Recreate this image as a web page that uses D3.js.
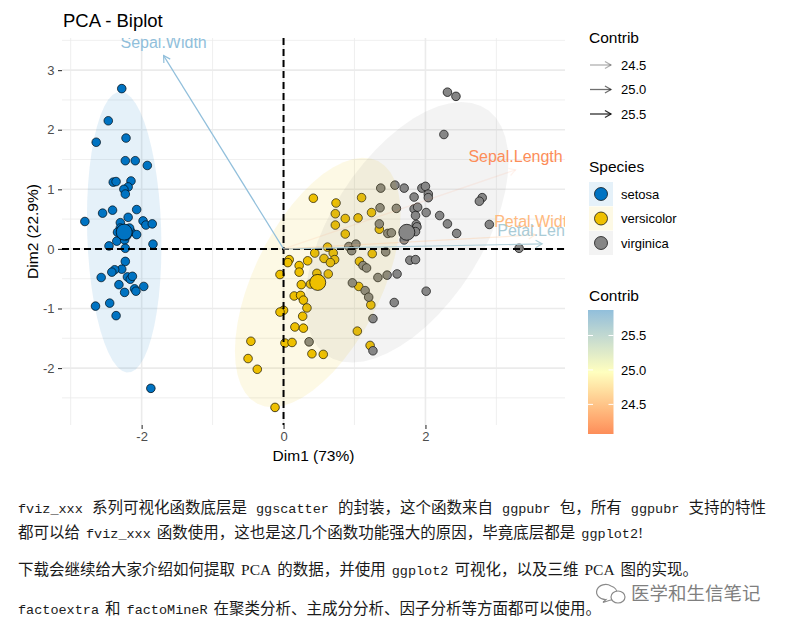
<!DOCTYPE html>
<html><head><meta charset="utf-8">
<script src="https://cdn.jsdelivr.net/npm/d3@7"></script>
<style>body{margin:0;background:#fff}svg{display:block}</style>
</head><body>
<svg id="c" width="789" height="627"></svg>
<script>
// ---------------- data ----------------
const species = ["setosa", "versicolor", "virginica"];
const speciesColors = ["#0073C2", "#EFC000", "#868686"];

const setosaDim1 = [-2.28,-2.47,-2.64,-2.22,-2.23,-2.09,-1.92,-2.40,-2.36,-2.15,-2.19,-2.25,-2.23,-2.07,-2.55,-2.41,-2.80,-2.30,-2.19,-1.98,-1.94,-1.85,-2.15,-2.07,-2.35,-2.24,-2.46,-1.84,-2.23,-2.23,-2.28,-2.38,-2.42,-2.57,-2.20,-2.16,-2.13,-2.32,-2.24,-2.10,-2.08,-1.97,-2.65,-2.45,-2.36,-1.87,-2.30,-2.17,-2.34,-2.21];
const setosaDim2 = [2.69,2.15,1.79,1.86,1.48,1.48,1.40,1.12,1.13,1.14,1.04,1.00,0.92,0.66,0.60,0.65,0.46,0.44,0.53,0.47,0.40,0.42,0.29,0.24,0.13,0.15,0.05,0.08,0.01,-0.21,-0.34,-0.35,-0.39,-0.48,-0.47,-0.51,-0.46,-0.60,-0.73,-0.67,-0.71,-0.63,-0.96,-0.91,-1.12,-2.34,0.35,0.35,0.28,0.22];

const versicolorDim1 = [0.42,0.74,1.10,0.73,0.87,1.05,1.24,0.73,0.87,1.35,0.62,0.44,0.70,0.57,0.72,0.66,0.08,0.06,0.34,0.22,0.22,-0.05,0.47,0.63,0.38,0.25,1.07,1.25,1.06,0.15,0.24,0.28,0.33,0.00,-0.05,0.27,0.16,0.28,-0.46,0.02,0.12,-0.50,-0.37,0.40,0.56,1.04,1.23,1.22,-0.12,0.51];
const versicolorDim2 = [0.85,0.77,0.86,0.59,0.51,0.52,0.61,0.40,0.25,0.33,0.03,-0.07,-0.07,-0.16,-0.18,-0.23,-0.18,-0.23,-0.20,-0.28,-0.39,-0.43,-0.41,-0.42,-0.59,-0.60,-0.21,-0.08,-0.63,-0.79,-0.78,-0.86,-0.99,-1.03,-1.06,-1.13,-1.31,-1.33,-1.55,-1.58,-1.57,-1.84,-2.02,-1.76,-1.77,-1.38,-0.94,-1.62,-2.66,-0.52];

const virginicaDim1 = [2.31,2.43,2.26,1.37,1.57,1.70,1.84,1.95,2.00,2.04,2.04,2.80,2.76,1.36,1.59,1.84,1.89,1.86,2.01,2.20,1.35,1.87,1.88,2.31,2.90,1.47,1.52,1.86,2.44,3.32,0.92,1.02,0.96,1.44,1.78,1.86,1.12,1.17,1.33,1.46,1.60,0.97,1.15,1.20,2.01,1.56,1.26,0.36,1.26,1.70];
const virginicaDim2 = [2.63,2.56,1.92,1.02,1.07,1.02,0.87,1.02,1.05,0.92,0.86,0.86,0.80,0.69,0.68,0.67,0.70,0.56,0.61,0.56,0.42,0.41,0.37,0.42,0.41,0.26,0.27,0.29,0.26,0.01,0.04,0.08,-0.03,-0.05,-0.19,-0.18,-0.28,-0.32,-0.48,-0.44,-0.42,-0.57,-0.70,-0.81,-0.71,-0.90,-1.17,-1.56,-1.71,0.15];

const varNames = ["Sepal.Length", "Sepal.Width", "Petal.Length", "Petal.Width"];
const varDim1 = [0.890, -0.460, 0.992, 0.965];
const varDim2 = [0.361, 0.883, 0.023, 0.064];
const varContrib = [24.07, 25.87, 25.69, 24.41];

const xTicks = [-2, 0, 2];
const yTicks = [-2, -1, 0, 1, 2, 3];
const contribBreaks = [24.5, 25.0, 25.5];
const gradientColors = ["#FC8D59", "#FFFFBF", "#91BFDB"];

const chartTitle = "PCA - Biplot";
const xTitle = "Dim1 (73%)";
const yTitle = "Dim2 (22.9%)";

const textLines = [
  [["fviz_xxx","m"],[" 系列可视化函数底层是 ","c"],["ggscatter","m"],[" 的封装，这个函数来自 ","c"],["ggpubr","m"],[" 包，所有 ","c"],["ggpubr","m"],[" 支持的特性","c"]],
  [["都可以给 ","c"],["fviz_xxx","m"],[" 函数使用，这也是这几个函数功能强大的原因，毕竟底层都是 ","c"],["ggplot2","m"],["!","s"]],
  [["下载会继续给大家介绍如何提取 ","c"],["PCA","s"],[" 的数据，并使用 ","c"],["ggplot2","m"],[" 可视化，以及三维 ","c"],["PCA","s"],[" 图的实现。","c"]],
  [["factoextra","m"],[" 和 ","c"],["factoMineR","m"],[" 在聚类分析、主成分分析、因子分析等方面都可以使用。","c"]]
];
const watermark = "医学和生信笔记";

// ---------------- build ----------------
const groups = [
  {name: species[0], color: speciesColors[0], x: setosaDim1, y: setosaDim2},
  {name: species[1], color: speciesColors[1], x: versicolorDim1, y: versicolorDim2},
  {name: species[2], color: speciesColors[2], x: virginicaDim1, y: virginicaDim2}
];
const allX = groups.flatMap(g => g.x), allY = groups.flatMap(g => g.y);

// factoextra biplot scaling of variable arrows
const rr = Math.min(
  d3.max(allX) - d3.min(allX) / (d3.max(varDim1) - d3.min(varDim1)),
  d3.max(allY) - d3.min(allY) / (d3.max(varDim2) - d3.min(varDim2))
) * 0.7;
const vars = varNames.map((n, i) => ({name: n, x: varDim1[i] * rr, y: varDim2[i] * rr, contrib: varContrib[i]}));

function expand(ext) { const r = ext[1] - ext[0]; return [ext[0] - 0.05 * r, ext[1] + 0.05 * r]; }
const xDom = expand(d3.extent(allX.concat(vars.map(v => v.x), [0])));
const yDom = expand(d3.extent(allY.concat(vars.map(v => v.y), [0])));

const PL = 62, PR = 565, PT = 38, PB = 425;
const xs = d3.scaleLinear().domain(xDom).range([PL, PR]);
const ys = d3.scaleLinear().domain(yDom).range([PB, PT]);

const cExt = d3.extent(varContrib);
const colorScale = d3.scaleLinear().domain([cExt[0], (cExt[0] + cExt[1]) / 2, cExt[1]]).range(gradientColors).interpolate(d3.interpolateLab);
const alphaScale = d3.scaleLinear().domain(cExt).range([0.1, 1]);

const svg = d3.select("#c");
svg.append("rect").attr("width", 789).attr("height", 627).attr("fill", "#fff");
svg.append("defs").append("clipPath").attr("id", "pc")
  .append("rect").attr("x", PL).attr("y", PT).attr("width", PR - PL).attr("height", PB - PT);

const font = "'Liberation Sans', Arial, sans-serif";

// grid
const gGrid = svg.append("g");
function minors(maj, dom) {
  const st = maj[1] - maj[0]; const out = [];
  for (let v = maj[0] - st / 2; v <= dom[1]; v += st) if (v >= dom[0]) out.push(v);
  return out;
}
minors(xTicks, xDom).forEach(v => gGrid.append("line").attr("x1", xs(v)).attr("x2", xs(v)).attr("y1", PT).attr("y2", PB).attr("stroke", "#EBEBEB").attr("stroke-width", 0.8));
minors(yTicks, yDom).forEach(v => gGrid.append("line").attr("y1", ys(v)).attr("y2", ys(v)).attr("x1", PL).attr("x2", PR).attr("stroke", "#EBEBEB").attr("stroke-width", 0.8));
xTicks.forEach(v => gGrid.append("line").attr("x1", xs(v)).attr("x2", xs(v)).attr("y1", PT).attr("y2", PB).attr("stroke", "#EBEBEB").attr("stroke-width", 1.6));
yTicks.forEach(v => gGrid.append("line").attr("y1", ys(v)).attr("y2", ys(v)).attr("x1", PL).attr("x2", PR).attr("stroke", "#EBEBEB").attr("stroke-width", 1.6));

// axes
const ax = svg.append("g").attr("transform", `translate(0,${PB})`)
  .call(d3.axisBottom(xs).tickValues(xTicks).tickSize(4).tickPadding(3).tickFormat(d => String(d)));
const ay = svg.append("g").attr("transform", `translate(${PL},0)`)
  .call(d3.axisLeft(ys).tickValues(yTicks).tickSize(4).tickPadding(3.5).tickFormat(d => String(d)));
[ax, ay].forEach(a => {
  a.select(".domain").remove();
  a.selectAll(".tick line").attr("stroke", "#333").attr("stroke-width", 1.1);
  a.selectAll(".tick text").attr("fill", "#4D4D4D").style("font-family", font).style("font-size", "13px");
});

const plot = svg.append("g").attr("clip-path", "url(#pc)");

// points
groups.forEach(g => {
  plot.append("g").selectAll("circle").data(g.x.map((x, i) => [x, g.y[i]])).join("circle")
    .attr("cx", d => xs(d[0])).attr("cy", d => ys(d[1])).attr("r", 4.3)
    .attr("fill", g.color).attr("stroke", "#000").attr("stroke-width", 0.7);
});

// concentration ellipses (type = "norm", level 0.95)
function ellipsePath(g) {
  const n = g.x.length;
  const mx = d3.mean(g.x), my = d3.mean(g.y);
  let sxx = 0, syy = 0, sxy = 0;
  for (let i = 0; i < n; i++) { const dx = g.x[i] - mx, dy = g.y[i] - my; sxx += dx * dx; syy += dy * dy; sxy += dx * dy; }
  sxx /= n - 1; syy /= n - 1; sxy /= n - 1;
  const a = Math.sqrt(sxx), b = sxy / a, c = Math.sqrt(syy - b * b);
  const d2 = n - 1;
  const fq = (d2 / 2) * (Math.pow(0.05, -2 / d2) - 1);
  const rad = Math.sqrt(2 * fq);
  const pts = d3.range(0, 51).map(k => {
    const t = k / 50 * 2 * Math.PI;
    const ux = Math.cos(t), uy = Math.sin(t);
    return [xs(mx + rad * ux * a), ys(my + rad * (ux * b + uy * c))];
  });
  return d3.line()(pts) + "Z";
}
groups.forEach(g => {
  plot.append("path").attr("d", ellipsePath(g)).attr("fill", g.color).attr("fill-opacity", 0.1).attr("stroke", "none");
});

// mean points
groups.forEach(g => {
  plot.append("circle").attr("cx", xs(d3.mean(g.x))).attr("cy", ys(d3.mean(g.y))).attr("r", 8)
    .attr("fill", g.color).attr("stroke", "#000").attr("stroke-width", 0.7);
});

// zero lines
plot.append("line").attr("x1", PL).attr("x2", PR).attr("y1", ys(0)).attr("y2", ys(0))
  .attr("stroke", "#000").attr("stroke-width", 2).attr("stroke-dasharray", "7,4");
plot.append("line").attr("x1", xs(0)).attr("x2", xs(0)).attr("y1", PT).attr("y2", PB)
  .attr("stroke", "#000").attr("stroke-width", 2).attr("stroke-dasharray", "7,4");

// arrows
function headPath(x1, y1, x2, y2, len) {
  const th = Math.atan2(y2 - y1, x2 - x1), a = Math.PI / 6;
  return `M${x2 - len * Math.cos(th - a)},${y2 - len * Math.sin(th - a)}L${x2},${y2}L${x2 - len * Math.cos(th + a)},${y2 - len * Math.sin(th + a)}`;
}
vars.forEach(v => {
  const x0 = xs(0), y0 = ys(0), x1 = xs(v.x), y1 = ys(v.y);
  const col = colorScale(v.contrib), op = alphaScale(v.contrib);
  plot.append("line").attr("x1", x0).attr("y1", y0).attr("x2", x1).attr("y2", y1)
    .attr("stroke", col).attr("stroke-opacity", op).attr("stroke-width", 1.2);
  plot.append("path").attr("d", headPath(x0, y0, x1, y1, 7.5)).attr("fill", "none")
    .attr("stroke", col).attr("stroke-opacity", op).attr("stroke-width", 1.2);
});
vars.forEach(v => {
  plot.append("text").attr("x", xs(v.x)).attr("y", ys(v.y) - 8).attr("text-anchor", "middle")
    .attr("fill", colorScale(v.contrib)).style("font-family", font).style("font-size", "16px").text(v.name);
});

// titles
svg.append("text").attr("x", PL + 1).attr("y", 27).style("font-family", font).style("font-size", "18.5px").attr("fill", "#000").text(chartTitle);
svg.append("text").attr("x", (PL + PR) / 2).attr("y", 461).attr("text-anchor", "middle").style("font-family", font).style("font-size", "15.5px").text(xTitle);
svg.append("text").attr("transform", `translate(38,${(PT + PB) / 2}) rotate(-90)`).attr("text-anchor", "middle").style("font-family", font).style("font-size", "15.5px").text(yTitle);

// legend 1: alpha (Contrib)
const LX = 589;
svg.append("text").attr("x", LX).attr("y", 43).style("font-family", font).style("font-size", "15.5px").text("Contrib");
contribBreaks.forEach((b, i) => {
  const yy = 65 + i * 24.5;
  const g = svg.append("g");
  g.append("line").attr("x1", LX + 1).attr("x2", LX + 22).attr("y1", yy).attr("y2", yy).attr("stroke", "#000").attr("stroke-opacity", alphaScale(b)).attr("stroke-width", 1.3);
  g.append("path").attr("d", headPath(LX + 1, yy, LX + 22, yy, 7)).attr("fill", "none").attr("stroke", "#000").attr("stroke-opacity", alphaScale(b)).attr("stroke-width", 1.3);
  g.append("text").attr("x", 621).attr("y", yy + 4.6).style("font-family", font).style("font-size", "13px").text(d3.format(".1f")(b));
});

// legend 2: Species
svg.append("text").attr("x", LX).attr("y", 171.5).style("font-family", font).style("font-size", "15.5px").text("Species");
species.forEach((s, i) => {
  const y0 = 182 + i * 24.5;
  svg.append("rect").attr("x", LX).attr("y", y0).attr("width", 24).attr("height", 24).attr("fill", speciesColors[i]).attr("fill-opacity", 0.1);
  svg.append("circle").attr("cx", LX + 12).attr("cy", y0 + 12).attr("r", 6.5).attr("fill", speciesColors[i]).attr("stroke", "#000").attr("stroke-width", 0.7);
  svg.append("text").attr("x", 621).attr("y", y0 + 16.5).style("font-family", font).style("font-size", "13px").text(s);
});

// legend 3: colour bar (Contrib)
svg.append("text").attr("x", LX).attr("y", 300.5).style("font-family", font).style("font-size", "15.5px").text("Contrib");
const barTop = 310, barBot = 434, barX = 588, barW = 25.5;
const barScale = d3.scaleLinear().domain(cExt).range([barBot, barTop]);
const grad = svg.select("defs").append("linearGradient").attr("id", "cgrad").attr("x1", 0).attr("y1", 1).attr("x2", 0).attr("y2", 0);
d3.range(0, 21).forEach(k => {
  const v = cExt[0] + (cExt[1] - cExt[0]) * k / 20;
  grad.append("stop").attr("offset", k / 20).attr("stop-color", colorScale(v));
});
svg.append("rect").attr("x", barX).attr("y", barTop).attr("width", barW).attr("height", barBot - barTop).attr("fill", "url(#cgrad)");
contribBreaks.forEach(b => {
  const yy = barScale(b);
  svg.append("line").attr("x1", barX).attr("x2", barX + 5).attr("y1", yy).attr("y2", yy).attr("stroke", "#fff").attr("stroke-width", 1);
  svg.append("line").attr("x1", barX + barW - 5).attr("x2", barX + barW).attr("y1", yy).attr("y2", yy).attr("stroke", "#fff").attr("stroke-width", 1);
  svg.append("text").attr("x", 621).attr("y", yy + 4.6).style("font-family", font).style("font-size", "13px").text(d3.format(".1f")(b));
});

// bottom text
const fam = {
  m: ["'Liberation Mono', 'DejaVu Sans Mono', monospace", "13.5px"],
  c: ["'Noto Sans CJK SC', sans-serif", "15.5px"],
  s: ["'Liberation Serif', serif", "15.5px"]
};
const baselines = [512.5, 538, 575, 614];
const GAP = 6, LEFT = 18, RIGHT = 766;
textLines.forEach((segs, i) => {
  const t = svg.append("text").attr("x", LEFT).attr("y", baselines[i]).attr("fill", "#1a1a1a");
  const spans = [];
  let pending = 0;
  segs.forEach((s, j) => {
    const raw = s[0];
    const lead = raw.length - raw.trimStart().length, trail = raw.length - raw.trimEnd().length;
    if (lead > 0 && j > 0) pending = 1;
    const sp = t.append("tspan").style("font-family", fam[s[1]][0]).style("font-size", fam[s[1]][1]).text(raw.trim());
    spans.push({sp, gap: pending});
    sp.attr("dx", pending ? GAP : 0);
    pending = trail > 0 ? 1 : 0;
  });
  if (i === 0) {
    const bb = t.node().getBBox();
    const w = bb.x + bb.width - LEFT;
    const nGaps = d3.sum(spans, d => d.gap);
    const extra = (RIGHT - LEFT - w) / nGaps;
    spans.forEach(d => { if (d.gap) d.sp.attr("dx", GAP + extra); });
  }
});

// watermark
const wm = svg.append("g").attr("fill", "none").attr("stroke", "#8a8a8a").attr("stroke-width", 1.2);
wm.append("path").attr("d", "M611,586 a9,7.5 0 1,0 -5,13.5 l-3,3 l6,-2 a9,7.5 0 0,0 2,-14.5");
wm.append("ellipse").attr("cx", 618).attr("cy", 597).attr("rx", 7).attr("ry", 6).attr("fill", "#fff");
svg.append("text").attr("x", 631).attr("y", 599.5).attr("fill", "#7f7f7f").style("font-family", "'Noto Sans CJK SC', sans-serif").style("font-size", "18.5px").text(watermark);
</script>
</body></html>
